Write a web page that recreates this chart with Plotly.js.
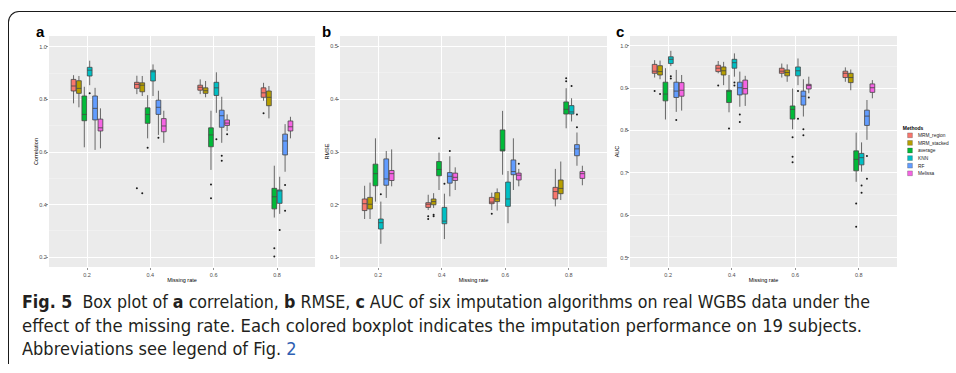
<!DOCTYPE html>
<html>
<head>
<meta charset="utf-8">
<script src="https://cdn.plot.ly/plotly-3.0.1.min.js"></script>
<style>
  html, body { margin:0; padding:0; background:#fff; width:956px; height:373px; overflow:hidden; }
  #frame { position:absolute; left:8px; top:11px; width:1000px; height:352px; border-top:1.5px solid #1a1a1a; border-left:1.5px solid #1a1a1a; border-top-left-radius:11px; }
  #chart { position:absolute; left:0; top:0; width:956px; height:373px; }
  .ln { position:absolute; left:22px; white-space:nowrap; font-family:'Liberation Sans Narrow','DejaVu Sans Condensed','Liberation Sans',sans-serif; font-size:18px; color:#231f20; transform-origin:0 0; }
  .ln b { font-weight:bold; }
</style>
</head>
<body>
<div id="frame"></div>
<div id="chart"></div>
<div class="ln" id="l1" style="top:291px"><b>Fig. 5</b>&nbsp; Box plot of <b>a</b> correlation, <b>b</b> RMSE, <b>c</b> AUC of six imputation algorithms on real WGBS data under the</div>
<div class="ln" id="l2" style="top:315px">effect of the missing rate. Each colored boxplot indicates the imputation performance on 19 subjects.</div>
<div class="ln" id="l3" style="top:338px">Abbreviations see legend of Fig. <span style="color:#2f5fb3">2</span></div>
<script>
// ---------------- data ----------------
const rates = ['0.2', '0.4', '0.6', '0.8'];
const methods = ['MRM_region', 'MRM_stacked', 'average', 'KNN', 'RF', 'Melissa'];
const colors = ['#F8766D', '#B79F00', '#00BA38', '#00BFC4', '#619CFF', '#F564E3'];

// rows = methods, columns = missing rates
const corrLow = [[0.785,0.820,0.820,0.795],[0.770,0.813,0.808,0.728],[0.618,0.652,0.532,0.351],[0.854,0.813,0.749,0.365],[0.608,0.665,0.635,0.525],[0.614,0.635,0.680,0.652]];
const corrQ1  = [[0.832,0.842,0.835,0.808],[0.823,0.829,0.823,0.776],[0.719,0.709,0.620,0.384],[0.889,0.870,0.815,0.405],[0.722,0.743,0.694,0.589],[0.680,0.677,0.701,0.680]];
const corrMed = [[0.851,0.857,0.846,0.825],[0.842,0.854,0.833,0.808],[0.743,0.743,0.665,0.430],[0.911,0.905,0.844,0.452],[0.766,0.770,0.738,0.642],[0.692,0.699,0.710,0.696]];
const corrQ3  = [[0.876,0.865,0.854,0.844],[0.871,0.863,0.844,0.832],[0.813,0.768,0.692,0.462],[0.922,0.911,0.865,0.456],[0.813,0.797,0.759,0.668],[0.725,0.727,0.722,0.718]];
const corrUp  = [[0.892,0.890,0.876,0.863],[0.889,0.889,0.870,0.851],[0.848,0.816,0.757,0.548],[0.947,0.933,0.903,0.506],[0.844,0.833,0.810,0.706],[0.766,0.757,0.743,0.734]];
const corrOut = [[[],[0.462],[],[0.747]],[[],[0.443],[],[]],[[],[0.616],[0.477,0.424],[0.234,0.203]],[[0.823],[],[0.649],[0.304]],[[],[0.654],[0.586,0.567],[0.475,0.377]],[[],[],[0.668],[]]];

const rmseLow = [[0.173,0.190,0.190,0.197],[0.173,0.194,0.189,0.209],[0.206,0.228,0.257,0.345],[0.126,0.135,0.165,0.358],[0.213,0.216,0.228,0.274],[0.235,0.228,0.235,0.237]];
const rmseQ1  = [[0.189,0.195,0.202,0.211],[0.192,0.200,0.206,0.221],[0.236,0.255,0.302,0.372],[0.154,0.164,0.197,0.372],[0.237,0.241,0.257,0.293],[0.246,0.246,0.247,0.250]];
const rmseMed = [[0.202,0.201,0.205,0.225],[0.201,0.206,0.211,0.231],[0.259,0.267,0.304,0.381],[0.166,0.169,0.211,0.376],[0.249,0.254,0.263,0.306],[0.259,0.252,0.256,0.259]];
const rmseQ3  = [[0.211,0.204,0.214,0.233],[0.214,0.211,0.223,0.247],[0.277,0.282,0.342,0.395],[0.173,0.195,0.243,0.388],[0.287,0.261,0.285,0.314],[0.265,0.260,0.260,0.263]];
const rmseUp  = [[0.236,0.219,0.223,0.268],[0.242,0.222,0.231,0.282],[0.326,0.299,0.378,0.421],[0.206,0.221,0.264,0.402],[0.302,0.292,0.326,0.337],[0.305,0.271,0.268,0.274]];
const rmseOut = [[[],[0.178,0.173],[0.183],[]],[[],[0.181,0.178],[],[]],[[],[0.326],[],[0.440,0.434]],[[0.220],[0.240],[],[0.425]],[[],[0.302],[],[0.371,0.347]],[[],[],[0.278],[]]];

const aucLow = [[0.925,0.935,0.925,0.915],[0.921,0.907,0.915,0.895],[0.826,0.843,0.803,0.679],[0.952,0.927,0.907,0.703],[0.844,0.856,0.833,0.778],[0.847,0.858,0.888,0.876]];
const aucQ1  = [[0.935,0.939,0.935,0.925],[0.931,0.931,0.929,0.913],[0.870,0.866,0.827,0.705],[0.958,0.947,0.929,0.719],[0.878,0.884,0.860,0.812],[0.881,0.886,0.898,0.890]];
const aucMed = [[0.940,0.947,0.940,0.935],[0.939,0.941,0.937,0.925],[0.886,0.893,0.850,0.732],[0.968,0.960,0.941,0.736],[0.893,0.901,0.881,0.834],[0.895,0.899,0.906,0.901]];
const aucQ3  = [[0.956,0.954,0.947,0.940],[0.953,0.950,0.943,0.935],[0.914,0.895,0.858,0.752],[0.974,0.968,0.950,0.746],[0.914,0.914,0.893,0.848],[0.913,0.919,0.909,0.910]];
const aucUp  = [[0.966,0.964,0.958,0.949],[0.965,0.962,0.956,0.944],[0.947,0.931,0.899,0.795],[0.988,0.982,0.970,0.772],[0.943,0.939,0.921,0.872],[0.931,0.929,0.927,0.919]];
const aucOut = [[[0.893],[0.906],[],[]],[[0.886],[],[],[]],[[],[0.805],[0.784,0.738,0.725],[0.628,0.573]],[[0.928,0.923],[0.913,0.906],[0.893,0.828],[0.670,0.653]],[[0.825],[0.838,0.820],[0.803,0.789],[0.740,0.686]],[[],[],[0.878],[]]];

const yTitles = ['Correlation', 'RMSE', 'AUC'];
const xTitle = 'Missing rate';
const panelLabels = ['a', 'b', 'c'];

// ---------------- chart ----------------
const FONT = 'Liberation Sans, Arial, sans-serif';
const traces = [];
function addPanel(p, low, q1, med, q3, up, out) {
  const sfx = p === 0 ? '' : String(p + 1);
  methods.forEach((m, k) => {
    traces.push({
      type: 'box', name: m, orientation: 'v',
      x: rates,
      // empty outlier lists get a null placeholder so the 2-D sample array is recognised
      y: out[k].map(a => (a.length ? a : [null])),
      q1: q1[k], median: med[k], q3: q3[k], lowerfence: low[k], upperfence: up[k],
      xaxis: 'x' + sfx, yaxis: 'y' + sfx,
      alignmentgroup: 'panel' + p, offsetgroup: m,
      boxpoints: 'outliers', jitter: 0, pointpos: 0, whiskerwidth: 0,
      fillcolor: colors[k],
      line: { color: '#454545', width: 0.8 },
      marker: { color: '#1a1a1a', size: 2, line: { width: 0 } },
      legendgroup: m, showlegend: p === 2, hoverinfo: 'skip'
    });
  });
}
addPanel(0, corrLow, corrQ1, corrMed, corrQ3, corrUp, corrOut);
addPanel(1, rmseLow, rmseQ1, rmseMed, rmseQ3, rmseUp, rmseOut);
addPanel(2, aucLow, aucQ1, aucMed, aucQ3, aucUp, aucOut);

const W = 956, H = 373;
const yDom = [(H - 267) / H, (H - 36) / H];
const xDoms = [[49 / W, 315 / W], [340 / W, 607 / W], [630 / W, 897 / W]];
const yRanges = [[0.163, 1.041], [0.082, 0.520], [0.478, 1.023]];
const yTicks = [{ tick0: 0.2, dtick: 0.2, minor: 0.1 }, { tick0: 0.1, dtick: 0.1, minor: 0.05 }, { tick0: 0.5, dtick: 0.1, minor: 0.05 }];

const tickFont = { family: FONT, size: 5.5, color: '#4d4d4d' };
const titleFont = { family: FONT, size: 5.5, color: '#000' };
const layout = {
  width: W, height: H,
  margin: { l: 0, r: 0, t: 0, b: 0, autoexpand: false },
  paper_bgcolor: 'rgba(0,0,0,0)', plot_bgcolor: '#EBEBEB',
  boxmode: 'group', boxgap: 0.49, boxgroupgap: 0.12,
  font: { family: FONT },
  showlegend: true,
  legend: {
    x: 0.5, y: 0.5, xanchor: 'left', yanchor: 'top',
    bgcolor: 'rgba(0,0,0,0)', borderwidth: 0,
    font: { family: FONT, size: 12, color: '#222' },
    title: { text: '<b>Methods</b>', font: { family: FONT, size: 12.5, color: '#000' } },
    tracegroupgap: 0, itemwidth: 30, traceorder: 'normal'
  },
  annotations: [],
};
for (let p = 0; p < 3; p++) {
  const sfx = p === 0 ? '' : String(p + 1);
  layout['xaxis' + sfx] = {
    domain: xDoms[p], anchor: 'y' + sfx, type: 'category',
    categoryorder: 'array', categoryarray: rates,
    range: [-0.6, 3.6], showgrid: true, gridcolor: '#FFFFFF', gridwidth: 1,
    zeroline: false, showline: false,
    ticks: 'outside', ticklen: 2, tickwidth: 0.6, tickcolor: '#4d4d4d',
    tickfont: tickFont, fixedrange: true, automargin: false,
    title: { text: xTitle, font: titleFont, standoff: 1 }
  };
  layout['yaxis' + sfx] = {
    domain: yDom, anchor: 'x' + sfx, range: yRanges[p],
    tick0: yTicks[p].tick0, dtick: yTicks[p].dtick, tickformat: '.1f',
    showgrid: true, gridcolor: '#FFFFFF', gridwidth: 1,
    minor: { dtick: yTicks[p].minor, tick0: yTicks[p].tick0, showgrid: true, gridcolor: '#F5F5F5', gridwidth: 0.5, ticks: '' },
    zeroline: false, showline: false,
    ticks: 'outside', ticklen: 2, tickwidth: 0.6, tickcolor: '#4d4d4d',
    ticklabelstandoff: -2,
    tickfont: tickFont, fixedrange: true, automargin: false,
    title: { text: yTitles[p], font: titleFont, standoff: 0 }
  };
}
const labelX = [40, 326, 620];
for (let p = 0; p < 3; p++) {
  layout.annotations.push({
    text: '<b>' + panelLabels[p] + '</b>', xref: 'paper', yref: 'paper',
    x: labelX[p] / W, y: (H - 32) / H, xanchor: 'center', yanchor: 'middle',
    showarrow: false, font: { family: FONT, size: 15, color: '#000' }
  });
}

Plotly.newPlot('chart', traces, layout, { displayModeBar: false, staticPlot: true }).then(() => {
  const lg = document.querySelector('g.legend');
  if (lg) {
    const t = lg.getAttribute('transform') || '';
    const m = /translate\(\s*([-\d.e]+)[ ,]+([-\d.e]+)\s*\)/.exec(t);
    let tx = m ? parseFloat(m[1]) : 0, ty = m ? parseFloat(m[2]) : 0;
    lg.setAttribute('transform', 'translate(' + tx + ',' + ty + ') scale(0.4)');
    const bb = lg.getBoundingClientRect();
    tx += 902 - bb.left; ty += 123 - bb.top;
    lg.setAttribute('transform', 'translate(' + tx + ',' + ty + ') scale(0.4)');
  }
  // nudge the y-axis titles to their reference positions (centre x of rotated text)
  const targets = { 'ytitle': 36, 'y2title': 327, 'y3title': 617 };
  Object.keys(targets).forEach(cls => {
    const el = document.querySelector('.' + cls);
    if (!el) return;
    const bb = el.getBoundingClientRect();
    const dx = targets[cls] - (bb.left + bb.width / 2);
    el.parentNode.setAttribute('transform', 'translate(' + dx + ',0)');
  });
});

// fit caption lines to measured widths of the reference
function fit(id, target) {
  const el = document.getElementById(id);
  const w = el.getBoundingClientRect().width;
  const s = target / w;
  el.style.transform = 'scaleX(' + s + ')';
  return s;
}
const s1 = fit('l1', 848);
const s2 = fit('l2', 840);
document.getElementById('l3').style.transform = 'scaleX(' + ((s1 + s2) / 2) + ')';
</script>
</body>
</html>
